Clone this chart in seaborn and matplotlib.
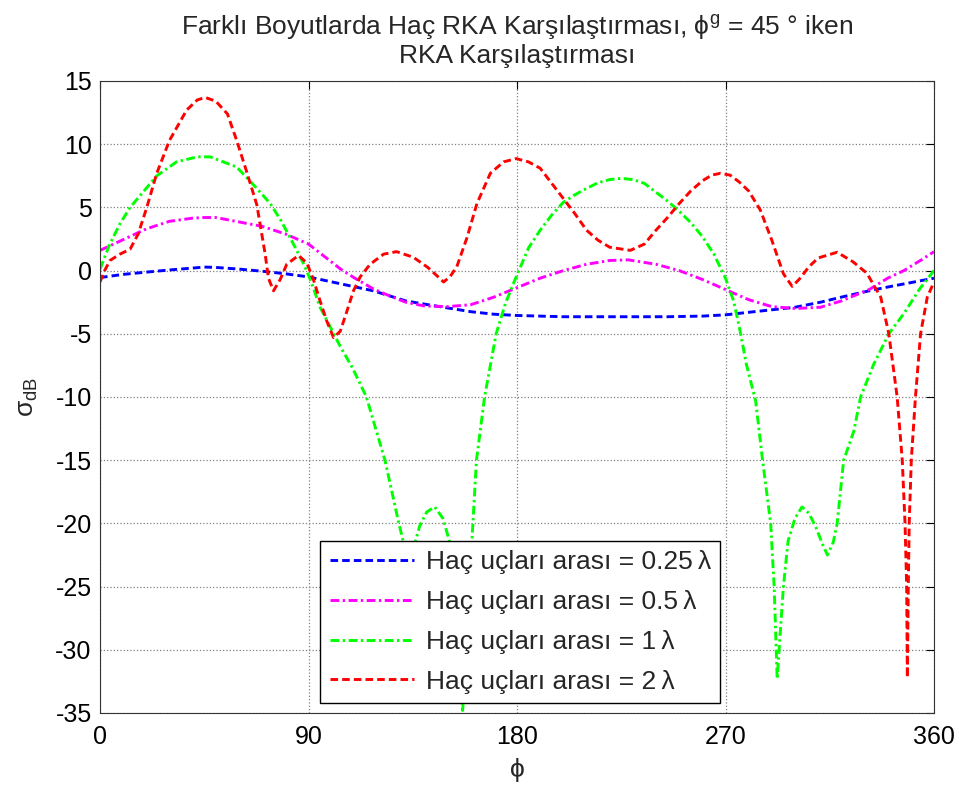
import matplotlib
matplotlib.use("Agg")
import matplotlib.pyplot as plt
import seaborn as sns
import pandas as pd

# Açı (derece) ve RKA (dB) değerleri
phi_025 = [0, 10, 20, 30, 40, 45, 50, 60, 70, 80, 90, 104, 118, 132, 140, 150, 160, 170, 180,
           190, 200, 215, 230, 245, 260, 270, 280, 290, 300, 311, 320, 332, 340, 350, 360]
sig_025 = [-0.55, -0.3, -0.12, 0.05, 0.2, 0.28, 0.25, 0.12, -0.05, -0.25, -0.5, -1.05, -1.6, -2.4,
           -2.65, -2.95, -3.25, -3.45, -3.55, -3.6, -3.65, -3.65, -3.65, -3.65, -3.6, -3.5, -3.3,
           -3.1, -2.9, -2.5, -2.1, -1.6, -1.3, -0.95, -0.6]

phi_05 = [0, 10, 20, 30, 40, 45, 50, 60, 70, 80, 90, 97, 104, 110, 118, 125, 132, 140, 150, 160,
          170, 180, 190, 200, 210, 220, 228, 240, 250, 260, 270, 280, 290, 300, 311, 320, 332,
          340, 347, 355, 360]
sig_05 = [1.6, 2.45, 3.3, 3.9, 4.15, 4.2, 4.2, 3.85, 3.5, 2.9, 2.1, 1.1, 0.1, -0.6, -1.45, -2.0,
          -2.5, -2.8, -2.85, -2.7, -2.1, -1.35, -0.6, 0.0, 0.5, 0.8, 0.85, 0.5, 0.0, -0.7, -1.5,
          -2.3, -2.85, -3.0, -2.9, -2.4, -1.5, -0.6, 0.0, 0.9, 1.5]

phi_1 = [0, 4, 8.6, 13, 19, 24.5, 33, 42, 47.5, 59, 67.7, 73.5, 78, 83.5, 88, 91, 95, 99.5, 104,
         109, 115, 119, 123, 126, 129, 131, 133.5, 136, 138, 141, 144.5, 148, 151, 153, 155, 156.5,
         158, 159.5, 160.5, 162.5, 166, 171, 175, 178.5, 181.5, 185, 190, 195, 200, 205, 210, 215,
         220, 225, 230, 235, 240, 245, 250, 255, 260, 265, 270, 273.5, 276, 279, 283, 286, 289.5,
         291, 292.3, 293.5, 295, 297, 300, 303, 306, 309, 312, 314, 316.5, 318.2, 321, 325.4,
         328.3, 334, 340.5, 347, 354, 360]
sig_1 = [0.1, 2.0, 3.7, 5.0, 6.3, 7.5, 8.6, 9.0, 9.0, 8.2, 6.5, 5.3, 4.0, 2.1, 0.5, -0.8, -2.9,
         -4.5, -6.1, -7.7, -10.0, -12.5, -15.0, -17.5, -20.0, -21.5, -22.4, -21.5, -20.2, -19.1,
         -18.7, -19.6, -21.5, -26.0, -32.0, -34.8, -32.0, -26.0, -21.5, -15.0, -10.0, -5.0, -2.6,
         -1.0, 0.3, 1.8, 3.2, 4.4, 5.4, 6.0, 6.5, 6.95, 7.2, 7.3, 7.2, 6.9, 6.2, 5.5, 4.7, 3.8, 2.7,
         1.3, -0.6, -2.4, -4.5, -7.4, -10.3, -15.0, -20.0, -25.0, -32.3, -29.0, -25.0, -21.4,
         -19.6, -18.7, -19.2, -20.3, -21.7, -22.5, -21.5, -20.0, -15.0, -12.7, -10.0, -7.4, -5.0,
         -3.4, -1.4, 0.0]

phi_2 = [0, 2, 4.3, 8.6, 13, 16.5, 20.2, 24.5, 30, 37.4, 42, 45.4, 50, 55, 59, 63, 67.7, 71.3,
         72.7, 74.9, 77.8, 80.6, 85.7, 89.3, 92.1, 95, 97.9, 100.8, 103.7, 106.6, 109.4, 112.3,
         116.6, 122.4, 128, 135.3, 141.5, 145.4, 148.3, 151, 154, 158.4, 162.7, 168.5, 174.2,
         179.6, 185, 190, 195, 200, 205, 210, 215, 220, 228.9, 235, 240, 245, 250, 255, 260, 264,
         267.8, 272, 276, 280, 285, 290, 295, 298.8, 302, 306, 310, 318.2, 325, 331, 337, 340.5,
         344.1, 346.3, 347.5, 348.2, 348.5, 348.9, 349.3, 350.2, 352, 354.2, 357.1, 360]
sig_2 = [-0.9, 0.0, 0.8, 1.3, 1.7, 2.9, 5.0, 7.7, 10.3, 12.7, 13.5, 13.7, 13.4, 12.4, 10.3, 8.0,
         5.2, 1.3, -0.6, -1.6, -0.7, 0.5, 1.2, 0.6, -0.7, -2.4, -4.0, -5.3, -4.8, -3.2, -1.6, -0.5,
         0.5, 1.3, 1.5, 1.05, 0.25, -0.4, -0.9, -0.5, 0.3, 2.6, 5.3, 7.7, 8.6, 8.86, 8.6, 8.1, 6.9,
         5.7, 4.5, 3.2, 2.4, 1.85, 1.6, 2.1, 3.2, 4.2, 5.3, 6.3, 7.1, 7.55, 7.7, 7.55, 7.0, 6.3,
         4.8, 2.4, -0.25, -1.25, -0.65, 0.3, 1.0, 1.45, 0.7, -0.2, -2.1, -5.0, -10.0, -15.0, -20.0,
         -25.0, -32.2, -25.0, -20.0, -15.0, -10.0, -5.0, -2.1, -0.9]

labels = ["Haç uçları arası = 0.25\u2009λ", "Haç uçları arası = 0.5\u2009λ",
          "Haç uçları arası = 1\u2009λ", "Haç uçları arası = 2\u2009λ"]

sns.set_style("white")
plt.rcParams['font.family'] = ['Liberation Sans', 'DejaVu Sans']
plt.rcParams['mathtext.fontset'] = 'custom'
plt.rcParams['mathtext.rm'] = 'Liberation Sans'
plt.rcParams['axes.unicode_minus'] = False
plt.rcParams['font.size'] = 18

fig = plt.figure(figsize=(9.59, 7.90), dpi=100)
ax = fig.add_axes([100 / 959, 77 / 790, 834 / 959, 632 / 790])

dash = (0, (2.6, 1.4))
dashdot = (0, (3.0, 1.2, 0.8, 1.2))
series = [
    (phi_025, sig_025, "#0000ff", dash),
    (phi_05, sig_05, "#ff00ff", dashdot),
    (phi_1, sig_1, "#00ff00", dashdot),
    (phi_2, sig_2, "#ff0000", dash),
]
for (x, y, c, ls), lab in zip(series, labels):
    df = pd.DataFrame({"phi": x, "sigma": y})
    sns.lineplot(data=df, x="phi", y="sigma", ax=ax, color=c, lw=2.1,
                 sort=False, estimator=None, label=lab)
    ax.lines[-1].set_linestyle(ls)

ax.set_xlim(0, 360)
ax.set_ylim(-35, 15)
ax.set_xticks([0, 90, 180, 270, 360])
ax.set_yticks(range(-35, 16, 5))
ax.grid(True, linestyle=':', color='#808080', lw=0.9)
ax.tick_params(axis='both', direction='in', top=True, right=True, length=6, width=0.8,
               labelsize=18, colors='black')
ax.tick_params(axis='x', pad=9)
ax.tick_params(axis='y', pad=6)
for s in ax.spines.values():
    s.set_color('#333333')
    s.set_linewidth(0.8)

ax.set_xlabel("ϕ", fontsize=19, labelpad=6)
ax.set_ylabel("σ$_{\\rm dB}$", fontsize=19, labelpad=11)
ax.set_title("Farklı Boyutlarda Haç RKA Karşılaştırması, ϕ$^{\\rm g}$ = 45 ° iken\nRKA Karşılaştırması",
             fontsize=19, pad=13, linespacing=1.1)

leg = ax.legend(loc='lower right', bbox_to_anchor=(0.744, 0.016), fontsize=19,
                frameon=True, fancybox=False, framealpha=1, edgecolor='black',
                handlelength=3.2, handletextpad=0.45, labelspacing=0.6, borderpad=0.35,
                borderaxespad=0)
leg.get_frame().set_linewidth(1.0)

fig.savefig("out.png", dpi=100)
